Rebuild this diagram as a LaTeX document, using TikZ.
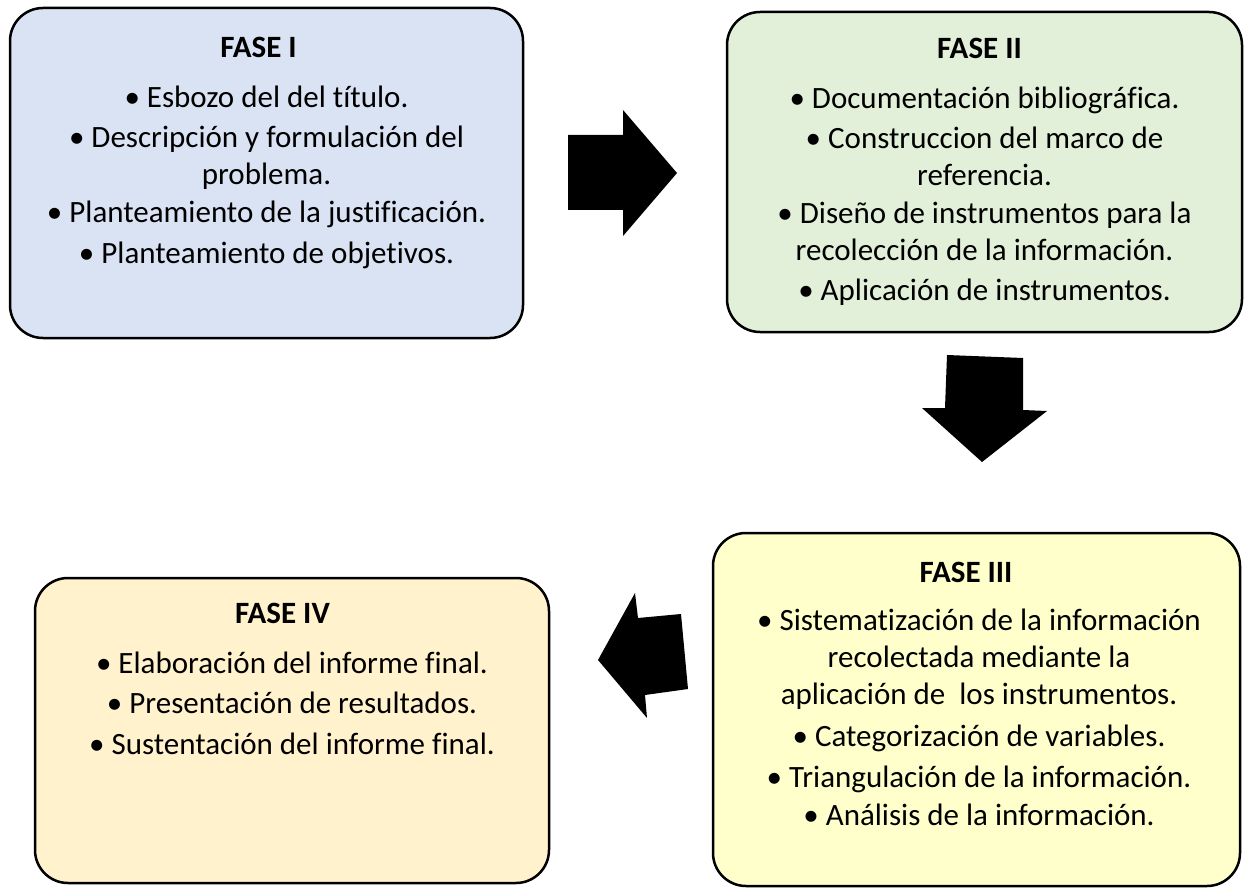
\documentclass[tikz,border=0pt]{standalone}
\usepackage{fontspec}
\setmainfont{Carlito}[Ligatures=CommonOff]
\definecolor{c1}{HTML}{DAE3F3}
\definecolor{c2}{HTML}{E2F0D9}
\definecolor{c3}{HTML}{FFFFCC}
\definecolor{c4}{HTML}{FFF2CC}
\begin{document}
\begin{tikzpicture}[x=1pt,y=-1pt,
  box/.style={draw=black, line width=2.5pt, rounded corners=33pt, inner sep=0pt},
  txt/.style={align=center, inner sep=0pt, font=\fontsize{31}{37}\selectfont, anchor=north},
  blockarrow/.style={fill=black, draw=none}]
\useasboundingbox (0,0) rectangle (1250,896);
% boxes
\node[box, fill=c1, minimum width=513pt, minimum height=330pt] (b1) at (266.5,173) {};
\node[box, fill=c2, minimum width=515pt, minimum height=320pt] (b2) at (984.5,172) {};
\node[box, fill=c3, minimum width=527pt, minimum height=353pt] (b3) at (976.5,709.5) {};
\node[box, fill=c4, minimum width=514pt, minimum height=305pt] (b4) at (292,730.5) {};
% texts
\node[txt] (t1) at (266.5,37) {\textbf{FASE I}\hspace*{16pt}\\[13pt]
  • Esbozo del del título.\\[3pt]
  • Descripción y formulación del\\ problema.\\[1pt]
  • Planteamiento de la justificación.\\[4pt]
  • Planteamiento de objetivos.};
\node[txt] (t2) at (984.5,38) {\textbf{FASE II}\hspace*{10pt}\\[13pt]
  • Documentación bibliográfica.\\[3pt]
  • Construccion del marco de\\ referencia.\\[1pt]
  • Diseño de instrumentos para la\\ recolección de la información.\\[3pt]
  • Aplicación de instrumentos.};
\node[txt] (t3) at (979,562) {\textbf{FASE III}\hspace*{26pt}\\[11pt]
  • Sistematización de la información\\ recolectada mediante la\\ aplicación de\ \ los instrumentos.\\[5pt]
  • Categorización de variables.\\[4pt]
  • Triangulación de la información.\\[1pt]
  • Análisis de la información.};
\node[txt] (t4) at (292,603) {\textbf{FASE IV}\hspace*{19pt}\\[13pt]
  • Elaboración del informe final.\\[3pt]
  • Presentación de resultados.\\[4pt]
  • Sustentación del informe final.};
% block arrows
\fill[blockarrow] (568,135) -- (623,135) -- (623,110) -- (677,173) -- (623,236) -- (623,210) -- (568,210) -- cycle;
\fill[blockarrow] (947,355) -- (1023,358) -- (1023,410) -- (1047,411) -- (982,462) -- (922,408) -- (945,408) -- cycle;
\fill[blockarrow] (598,660) -- (635,593) -- (638,618) -- (681,614) -- (688,689) -- (645,695) -- (647,718) -- cycle;
\end{tikzpicture}
\end{document}
